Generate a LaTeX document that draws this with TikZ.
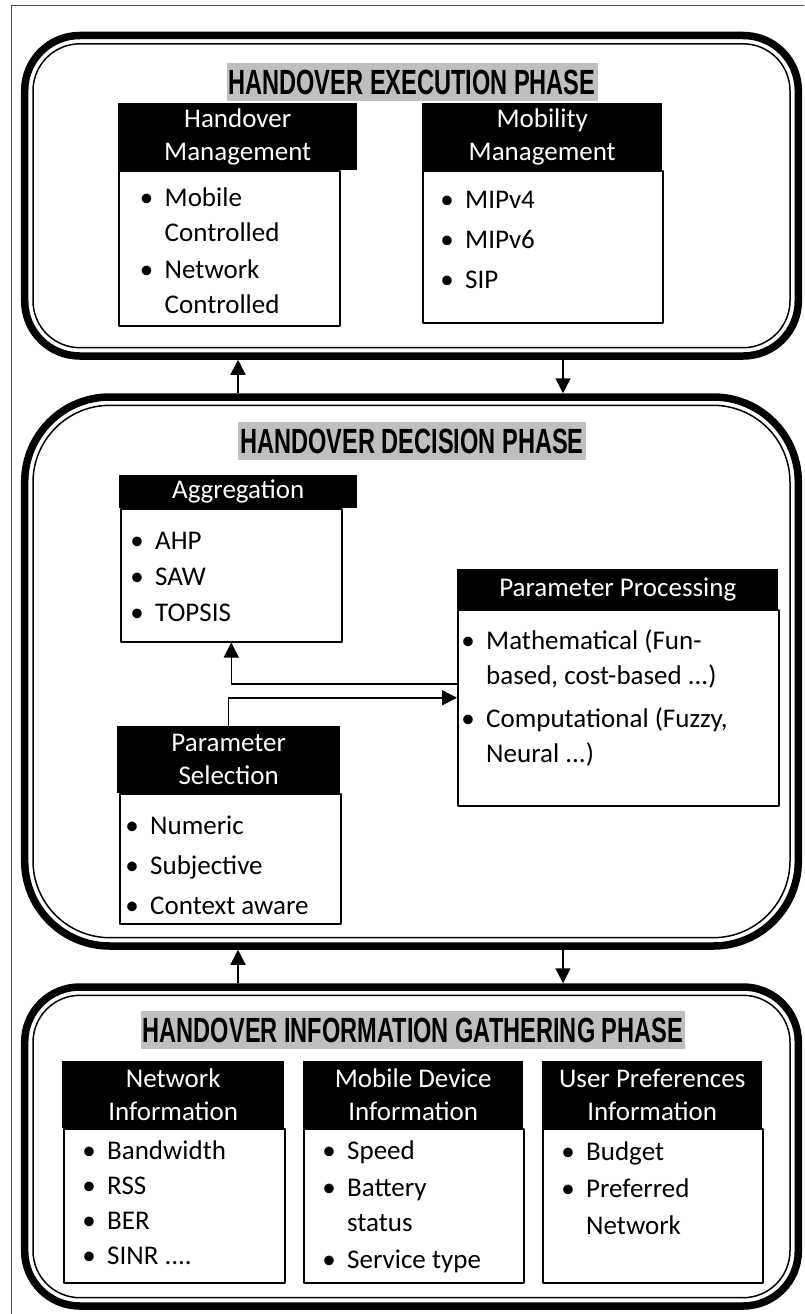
\documentclass[tikz,border=0pt]{standalone}
\usepackage{fontspec}
\setmainfont{Carlito}
\newfontfamily\titlefont{Liberation Sans}[FakeStretch=0.674]
\usetikzlibrary{arrows.meta}
\definecolor{titlegray}{RGB}{191,191,191}
\definecolor{framegray}{RGB}{80,80,80}
\newcommand\lbul{\makebox[18pt][l]{\makebox[0pt]{\textbullet}}}
\newcommand\lind{\hspace*{18pt}}
\begin{document}
\begin{tikzpicture}[x=1pt,y=-1pt,line join=round,
  phase/.style={draw,line width=7.5pt,inner sep=0pt},
  thinb/.style={draw,line width=1.5pt},
  ptitle/.style={fill=titlegray,font=\titlefont\bfseries\fontsize{35}{40}\selectfont,inner xsep=2pt,inner ysep=0pt,minimum height=38pt},
  hdr/.style={fill=black,text=white,font=\fontsize{27}{33}\selectfont,align=center,inner sep=0pt,anchor=north west},
  lbox/.style={draw,line width=1.5pt,inner sep=0pt,anchor=north west},
  ltext/.style={inner sep=0pt,anchor=base west,font=\fontsize{27}{35}\selectfont},
  arr/.style={line width=1.5pt,-{Triangle[length=15pt,width=15pt]}}]
\useasboundingbox (0,0) rectangle (804,1314);
\draw[framegray,line width=1pt] (11,1314) -- (11,6) -- (804,6);

% phases
\node[phase,rounded corners=55pt,minimum width=773.6pt,minimum height=320.5pt] (exec) at (411.5,195.75) {};
\draw[thinb,rounded corners=47pt] (33,43.8) rectangle (790,347.7);
\node[phase,rounded corners=85pt,minimum width=773.6pt,minimum height=549pt] (dec) at (411.5,671.5) {};
\draw[thinb,rounded corners=77pt] (33,405.3) rectangle (790,937.7);
\node[phase,rounded corners=55pt,minimum width=773.6pt,minimum height=319pt] (info) at (411.5,1146.5) {};
\draw[thinb,rounded corners=47pt] (33,995.3) rectangle (790,1297.7);

% titles
\node[ptitle] (exect) at (412,82) {HANDOVER EXECUTION PHASE};
\node[ptitle] (dect) at (412,441) {HANDOVER DECISION PHASE};
\node[ptitle] (infot) at (413,1030) {HANDOVER INFORMATION GATHERING PHASE};

% execution phase
\node[lbox,minimum width=221pt,minimum height=155pt] (hml) at (118,170) {};
\node[hdr,minimum width=239pt,minimum height=67pt] (hmh) at (118,103) {Handover\\Management};
\node[ltext] (hmt) at (146.5,206) {\begin{tabular}[t]{@{}l@{}}\lbul Mobile\\ \lind Controlled\\[2pt] \lbul Network\\ \lind Controlled\end{tabular}};

\node[lbox,minimum width=240pt,minimum height=152pt] (mml) at (422,170) {};
\node[hdr,minimum width=240pt,minimum height=67pt] (mmh) at (422,103) {Mobility\\Management};
\node[ltext] (mmt) at (447,208) {\begin{tabular}[t]{@{}l@{}}\lbul MIPv4\\[5pt] \lbul MIPv6\\[5pt] \lbul SIP\end{tabular}};

% decision phase
\node[lbox,minimum width=221pt,minimum height=133pt] (aggl) at (120,508) {};
\node[hdr,minimum width=238pt,minimum height=33pt] (aggh) at (119,475) {Aggregation};
\node[ltext] (aggt) at (137,549) {\begin{tabular}[t]{@{}l@{}}\lbul AHP\\[1pt] \lbul SAW\\[1pt] \lbul TOPSIS\end{tabular}};

\node[lbox,minimum width=321pt,minimum height=196pt] (ppl) at (457,609) {};
\node[hdr,minimum width=321pt,minimum height=40pt] (pph) at (457,569) {Parameter Processing};
\node[ltext] (ppt) at (468,649) {\begin{tabular}[t]{@{}l@{}}\lbul Mathematical (Fun-\\ \lind based, cost-based ...)\\[8pt] \lbul Computational (Fuzzy,\\ \lind Neural ...)\end{tabular}};

\node[lbox,minimum width=221pt,minimum height=130pt] (psl) at (119,793) {};
\node[hdr,minimum width=223pt,minimum height=67pt] (psh) at (117,726) {Parameter\\Selection};
\node[ltext] (pst) at (132,834) {\begin{tabular}[t]{@{}l@{}}\lbul Numeric\\[5pt] \lbul Subjective\\[5pt] \lbul Context aware\end{tabular}};

% information phase
\node[lbox,minimum width=221pt,minimum height=154pt] (netl) at (63,1128) {};
\node[hdr,minimum width=222pt,minimum height=67pt] (neth) at (62,1061) {Network\\Information};
\node[ltext] (nett) at (89,1159) {\begin{tabular}[t]{@{}l@{}}\lbul Bandwidth\\ \lbul RSS\\ \lbul BER\\ \lbul SINR ....\end{tabular}};

\node[lbox,minimum width=220pt,minimum height=154pt] (mobl) at (303,1128) {};
\node[hdr,minimum width=220pt,minimum height=67pt] (mobh) at (303,1061) {Mobile Device\\Information};
\node[ltext] (mobt) at (329,1159) {\begin{tabular}[t]{@{}l@{}}\lbul Speed\\[2pt] \lbul Battery\\ \lind status\\[2pt] \lbul Service type\end{tabular}};

\node[lbox,minimum width=220pt,minimum height=154pt] (usrl) at (542,1128) {};
\node[hdr,minimum width=220pt,minimum height=67pt] (usrh) at (542,1061) {User Preferences\\Information};
\node[ltext] (usrt) at (568,1160) {\begin{tabular}[t]{@{}l@{}}\lbul Budget\\[2pt] \lbul Preferred\\[2pt] \lind Network\end{tabular}};

% connectors
\coordinate (ua) at (238,0);
\coordinate (da) at (563,0);
\draw[arr] (dec.north -| ua) -- (exec.south -| ua);
\draw[arr] (exec.south -| da) -- (dec.north -| da);
\draw[arr] (info.north -| ua) -- (dec.south -| ua);
\draw[arr] (dec.south -| da) -- (info.north -| da);
\draw[arr] ([yshift=24pt]ppl.west) -| (aggl.south);
\draw[arr] (psh.north) |- ([yshift=10pt]ppl.west);
\end{tikzpicture}
\end{document}
